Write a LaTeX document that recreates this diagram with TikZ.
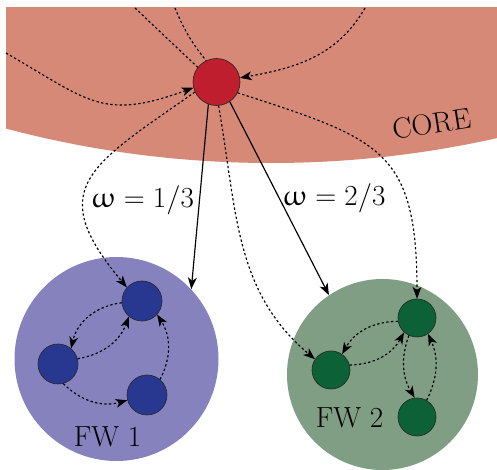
\documentclass[tikz,border=0pt]{standalone}
\usepackage{upgreek}
\usetikzlibrary{arrows.meta}
\definecolor{corecol}{RGB}{215,137,120}
\definecolor{corenode}{RGB}{190,30,45}
\definecolor{fwonecol}{RGB}{133,130,190}
\definecolor{fwonenode}{RGB}{40,56,145}
\definecolor{fwtwocol}{RGB}{127,158,131}
\definecolor{fwtwonode}{RGB}{12,97,55}
\newcommand\pxu{0.855pt}

\begin{document}
\begin{tikzpicture}[x=\pxu,y=\pxu, every node/.style={font=\Huge},
  web/.style={circle,inner sep=0pt,draw=none},
  sp/.style={circle,inner sep=0pt,draw=black!85,line width=0.55pt},
  link/.style={line width=1pt,-{Stealth[length=10pt,width=7.5pt,inset=2.7pt]}},
  flow/.style={link,dash pattern=on 2pt off 2pt}]

\useasboundingbox (0,0) rectangle (497,470);

% Core
\begin{scope}
\clip (6,0) rectangle (497,462);
\fill[corecol] (271,1337) circle (1030);
\end{scope}
\node[anchor=base,rotate=9] (corelbl) at (433.5,336.5) {CORE};

% Food webs
\node[web,fill=fwonecol,minimum size=204*\pxu] (fwone) at (116.5,111) {};
\node[web,fill=fwtwocol,minimum size=191*\pxu] (fwtwo) at (382.5,95.5) {};
\node[anchor=base] (fwonelbl) at (107.5,23) {FW 1};
\node[anchor=base] (fwtwolbl) at (349.5,42) {FW 2};

% Species
\node[sp,fill=corenode,minimum size=47*\pxu] (red) at (216.5,388) {};
\node[sp,fill=fwonenode,minimum size=40*\pxu] (a1) at (142,169) {};
\node[sp,fill=fwonenode,minimum size=40*\pxu] (a2) at (58,106) {};
\node[sp,fill=fwonenode,minimum size=40*\pxu] (a3) at (147,75) {};
\node[sp,fill=fwtwonode,minimum size=38*\pxu] (b1) at (417,152) {};
\node[sp,fill=fwtwonode,minimum size=38*\pxu] (b2) at (331,100) {};
\node[sp,fill=fwtwonode,minimum size=38*\pxu] (b3) at (417,53) {};

% Weights
\node[anchor=base] (wone) at (142.5,262) {$\upomega = 1/3$};
\node[anchor=base] (wtwo) at (334,264) {$\upomega = 2/3$};

% Free ends at the core border
\coordinate (t1) at (135,462);
\coordinate (t2) at (175,462);
\coordinate (t3) at (365,462);
\coordinate (l1) at (6,417);

% Links inside the core
\draw[flow,-] (t1) -- (red.142);
\draw[flow,-] (t2) to[bend right=8] (red.116);
\draw[flow] (l1) to[out=-30,in=200,looseness=1.3] (red.194);
\draw[flow] (t3) to[out=240,in=10] (red.10);

% Core to food webs
\draw[link] (red.250) -- (fwone.43);
\draw[link] (red.304) -- (fwtwo.124);
\draw[flow] (red.205) to[out=215,in=130,looseness=1.6] (a1.138);
\draw[flow] (red.275) to[out=-80,in=140] (b2.146);
\draw[flow] (red.333) to[out=-18,in=90,looseness=1.4] (b1.north);

% Inside FW 1
\draw[flow] (a1.185) to[bend right=35] (a2.50);
\draw[flow] (a2.15) to[bend right=30] (a1.230);
\draw[flow] (a2.285) to[bend right=30] (a3.195);
\draw[flow] (a3.50) to[bend right=30] (a1.318);

% Inside FW 2
\draw[flow] (b1.190) to[bend right=30] (b2.55);
\draw[flow] (b2.15) to[bend right=30] (b1.228);
\draw[flow] (b1.245) to[bend right=25] (b3.97);
\draw[flow] (b3.60) to[bend right=25] (b1.305);

\end{tikzpicture}
\end{document}
